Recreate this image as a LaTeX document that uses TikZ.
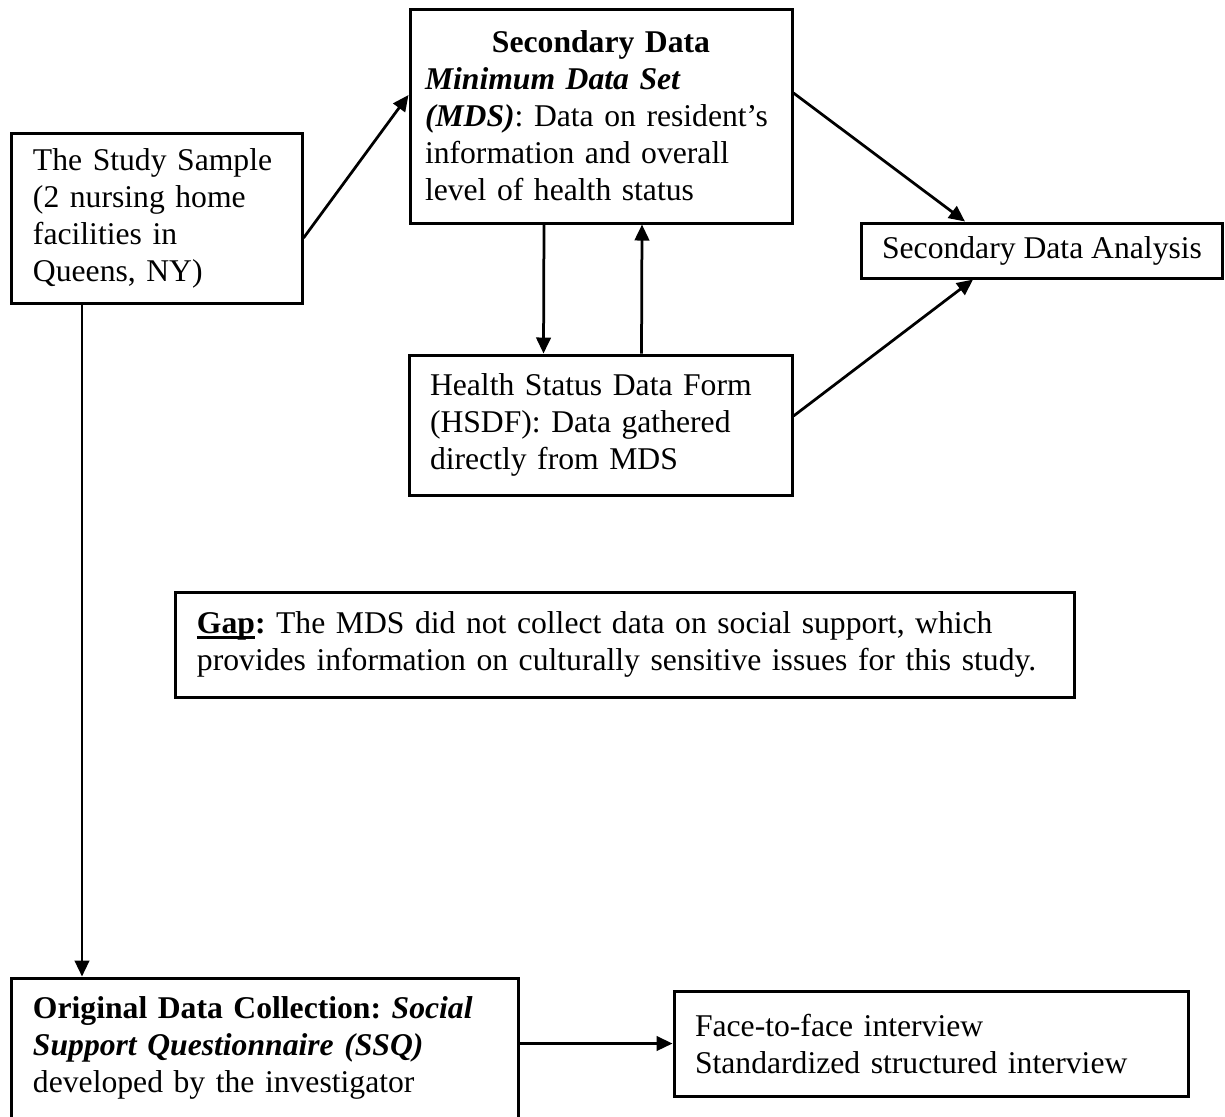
\documentclass[tikz,border=0pt]{standalone}
\usepackage{fontspec}
\setmainfont{Liberation Serif}
\usetikzlibrary{arrows.meta}
\frenchspacing
\hyphenpenalty=10000
\exhyphenpenalty=10000

\begin{document}
\begin{tikzpicture}[x=0.4pt,y=-0.4pt,
		box/.style={draw,line width=1.2pt,inner xsep=8.4pt,inner ysep=0pt,align=left,
				font=\fontsize{12.66}{14.8}\selectfont},
		link/.style={line width=1.1pt,-{Triangle[length=6.4pt,width=5.8pt]}}]
	\useasboundingbox (0,0) rectangle (1225,1116);

	\node[box,text width=99.2pt,minimum height=68pt](sample) at (157,218)
	{The Study Sample\\(2 nursing home\\facilities in\\Queens, NY)};
	\node[box,inner xsep=6pt,text width=140.8pt,minimum height=85.6pt](mds) at (601,116)
	{\makebox[\hsize][c]{\textbf{Secondary Data}}\\
		\textbf{\textit{Minimum Data Set}}\\
		\textbf{\textit{(MDS)}}: Data on resident’s\\
		information and overall\\
		level of health status};
	\node[box,align=center,minimum width=144pt,minimum height=22pt](analysis) at (1042,250.5)
	{Secondary Data Analysis};
	\node[box,text width=136.4pt,minimum height=56pt](hsdf) at (600.5,425)
	{Health Status Data Form\\(HSDF): Data gathered\\directly from MDS};
	\node[box,text width=342.4pt,minimum height=42pt](gap) at (625,644.5)
	{\textbf{\rlap{\rule[-2pt]{23.2pt}{0.9pt}}Gap:} The MDS did not collect data on social support, which\\
		provides information on culturally sensitive issues for this study.};
	\node[box,text width=185.6pt,minimum height=56pt](ssq) at (265,1048)
	{\textbf{Original Data Collection: \textit{Social}}\\
		\textbf{\textit{Support Questionnaire (SSQ)}}\\
		developed by the investigator};
	\node[box,text width=188.8pt,minimum height=42pt](face) at (931,1043.5)
	{Face-to-face interview\\Standardized structured interview};

	\draw[link] ([yshift=-8pt]sample.east) -- ([yshift=8.4pt]mds.west);
	\draw[link] ([yshift=9.2pt]mds.east) -- ([xshift=-30.8pt]analysis.north);
	\draw[link] ([yshift=3.6pt]hsdf.east) -- ([xshift=-27.6pt]analysis.south);
	\draw[link] ([xshift=-22.8pt]mds.south) -- ([xshift=-22.8pt]hsdf.north);
	\draw[link] ([xshift=16.4pt]hsdf.north) -- ([xshift=16.4pt]mds.south);
	\draw[link] ([xshift=-30pt]sample.south) -- ([xshift=-30pt]sample.south |- ssq.north);
	\draw[link] (ssq.east |- face.west) -- (face.west);
\end{tikzpicture}
\end{document}
